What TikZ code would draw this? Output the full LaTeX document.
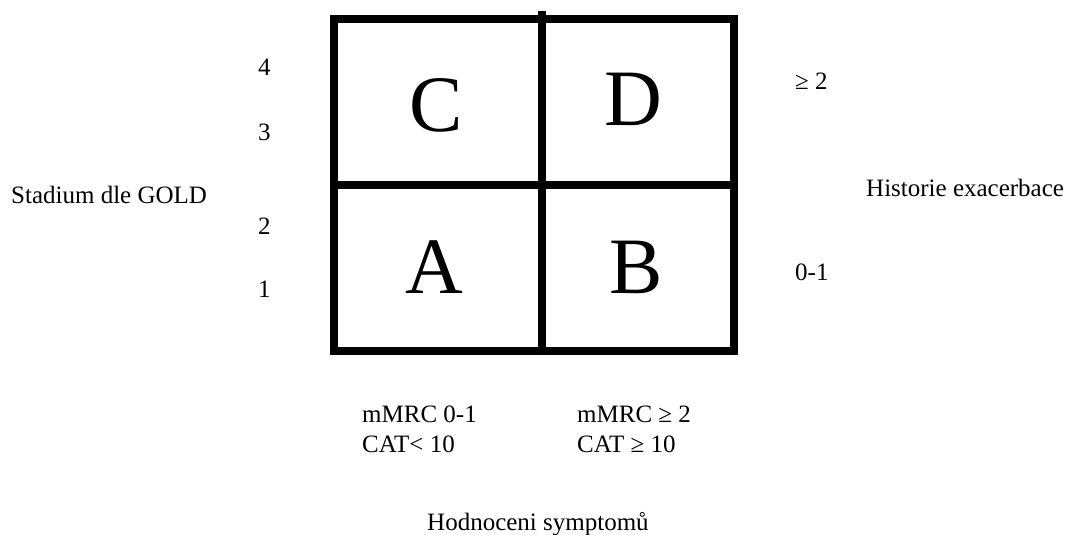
\documentclass[tikz,border=0pt]{standalone}
\usepackage{fontspec}
\setmainfont{Liberation Serif}
\begin{document}
\begin{tikzpicture}[x=1pt,y=-1pt,
  gridline/.style={line width=8pt,line cap=rect},
  big/.style={font=\fontsize{80}{90}\selectfont,inner sep=0pt,anchor=base},
  lbl/.style={font=\fontsize{25}{30}\selectfont,inner sep=0pt,anchor=base west}]
\useasboundingbox (0,0) rectangle (1068,535);
% grid
\draw[gridline] (334,19) rectangle (734,351);
\draw[gridline] (334,184.5) -- (734,184.5);
\draw[line width=8pt] (542,11) -- (542,355);
% quadrant letters
\node[big] (C) at (436,131) {C};
\node[big] (D) at (633,125) {D};
\node[big] (A) at (434,293) {A};
\node[big] (B) at (636,293) {B};
% left axis
\node[lbl] (gold) at (11,203) {Stadium dle GOLD};
\node[lbl] (n4) at (258,75) {4};
\node[lbl] (n3) at (258,140) {3};
\node[lbl] (n2) at (258,234) {2};
\node[lbl] (n1) at (258,297) {1};
% right axis
\node[lbl] (ge2) at (795,89) {≥ 2};
\node[lbl] (hist) at (866,196) {Historie exacerbace};
\node[lbl] (z1) at (795,280) {0-1};
% bottom axis
\node[lbl] (m1) at (362,422) {mMRC 0-1};
\node[lbl] (c1) at (362,452) {CAT< 10};
\node[lbl] (m2) at (577,422) {mMRC ≥ 2};
\node[lbl] (c2) at (577,452) {CAT ≥ 10};
\node[lbl] (hod) at (427,530) {Hodnoceni symptomů};
\end{tikzpicture}
\end{document}
